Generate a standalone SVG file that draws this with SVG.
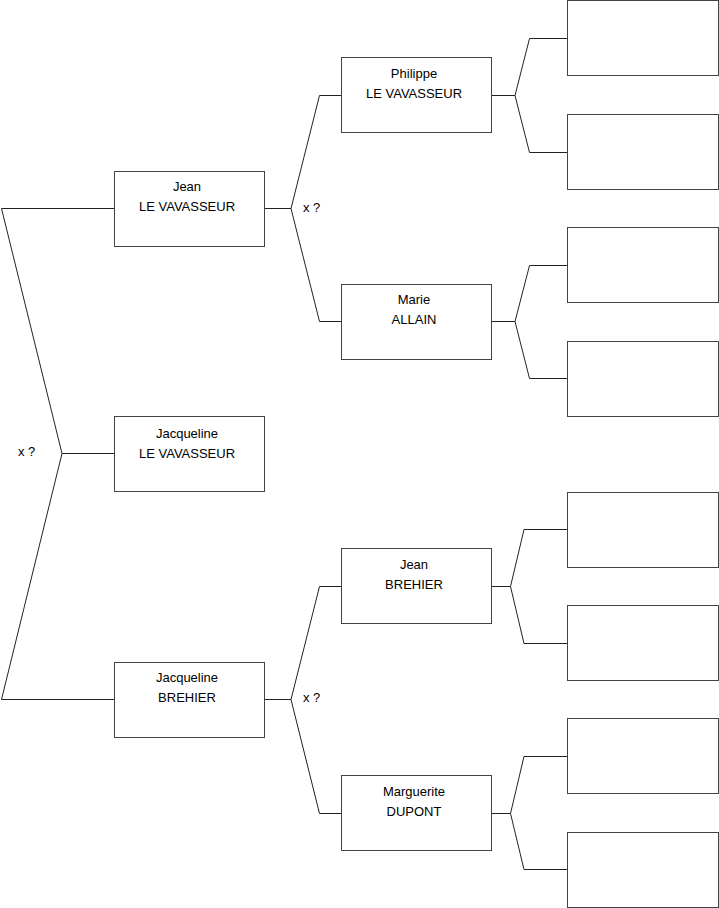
<svg xmlns="http://www.w3.org/2000/svg" width="719" height="908" viewBox="0 0 719 908">
<style>
.box{fill:#fff;stroke:#444;stroke-width:1}
.ln{fill:none;stroke:#222;stroke-width:1}
text{font-family:"Liberation Sans",Arial,sans-serif;font-size:13px;fill:#000}
.c{text-anchor:middle}
</style>
<rect width="719" height="908" fill="#fff"/>
<g id="connectors">
<path class="ln" d="M114,208.5 H1.5 L62,453.5 L1.5,699.5 H114 M62,453.5 H114"/>
<path class="ln" d="M265,208.5 H291 L319.5,95.5 H341 M291,208.5 L319.5,321.5 H341"/>
<path class="ln" d="M265,699.5 H291 L319.5,586.5 H341 M291,699.5 L319.5,813.5 H341"/>
<path class="ln" d="M491,95.5 H515 L529.5,38.5 H567 M515,95.5 L529.5,152.5 H567"/>
<path class="ln" d="M491,321.5 H515 L529.5,265.5 H567 M515,321.5 L529.5,378.5 H567"/>
<path class="ln" d="M491,586.5 H510.5 L524,529.5 H567 M510.5,586.5 L524,643.5 H567"/>
<path class="ln" d="M491,813.5 H510.5 L524,756.5 H567 M510.5,813.5 L524,869.5 H567"/>
<text x="18" y="456">x ?</text>
<text x="303" y="212">x ?</text>
<text x="303" y="702">x ?</text>
</g>
<g id="jean-le-vavasseur"><rect class="box" x="114.5" y="171.5" width="150" height="75"/><text class="c" x="187" y="191">Jean</text><text class="c" x="187" y="211">LE VAVASSEUR</text></g>
<g id="jacqueline-le-vavasseur"><rect class="box" x="114.5" y="416.5" width="150" height="75"/><text class="c" x="187" y="438">Jacqueline</text><text class="c" x="187" y="458">LE VAVASSEUR</text></g>
<g id="jacqueline-brehier"><rect class="box" x="114.5" y="662.5" width="150" height="75"/><text class="c" x="187" y="682">Jacqueline</text><text class="c" x="187" y="702">BREHIER</text></g>
<g id="philippe-le-vavasseur"><rect class="box" x="341.5" y="57.5" width="150" height="75"/><text class="c" x="414" y="78">Philippe</text><text class="c" x="414" y="98">LE VAVASSEUR</text></g>
<g id="marie-allain"><rect class="box" x="341.5" y="284.5" width="150" height="75"/><text class="c" x="414" y="304">Marie</text><text class="c" x="414" y="324">ALLAIN</text></g>
<g id="jean-brehier"><rect class="box" x="341.5" y="548.5" width="150" height="75"/><text class="c" x="414" y="569">Jean</text><text class="c" x="414" y="589">BREHIER</text></g>
<g id="marguerite-dupont"><rect class="box" x="341.5" y="775.5" width="150" height="75"/><text class="c" x="414" y="796">Marguerite</text><text class="c" x="414" y="816">DUPONT</text></g>
<g id="p1"><rect class="box" x="567.5" y="0.5" width="151" height="75"/></g>
<g id="p2"><rect class="box" x="567.5" y="114.5" width="151" height="75"/></g>
<g id="p3"><rect class="box" x="567.5" y="227.5" width="151" height="75"/></g>
<g id="p4"><rect class="box" x="567.5" y="341.5" width="151" height="75"/></g>
<g id="p5"><rect class="box" x="567.5" y="492.5" width="151" height="75"/></g>
<g id="p6"><rect class="box" x="567.5" y="605.5" width="151" height="75"/></g>
<g id="p7"><rect class="box" x="567.5" y="718.5" width="151" height="75"/></g>
<g id="p8"><rect class="box" x="567.5" y="832.5" width="151" height="75"/></g>
</svg>
